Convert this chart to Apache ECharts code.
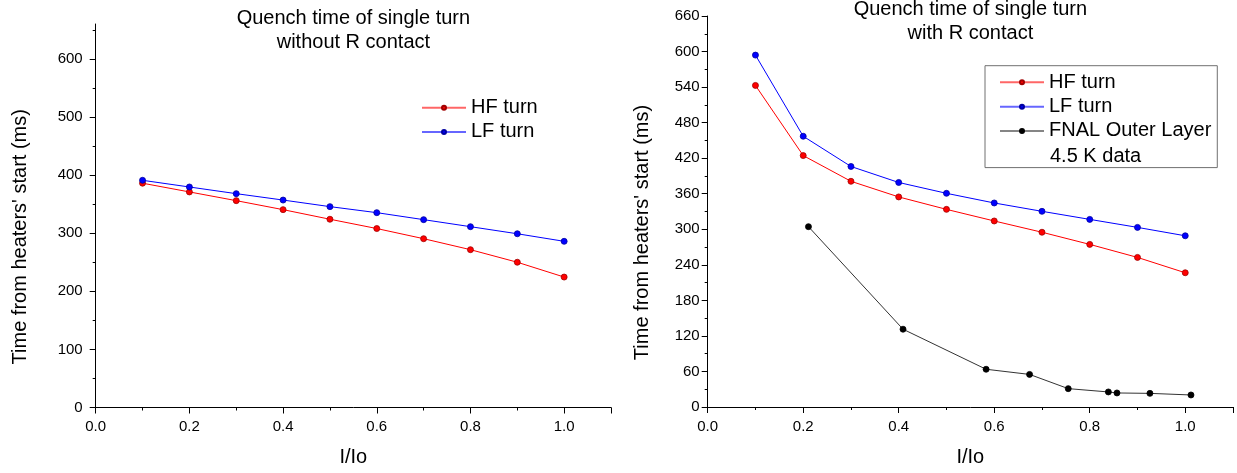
<!DOCTYPE html>
<html><head><meta charset="utf-8">
<script src="https://cdn.jsdelivr.net/npm/echarts@6/dist/echarts.min.js"></script>
<style>html,body{margin:0;padding:0;background:#fff}#c{width:1237px;height:473px}</style>
</head><body><div id="c"></div>
<script>
// ---- data ----
const currentRatio = [0.1, 0.2, 0.3, 0.4, 0.5, 0.6, 0.7, 0.8, 0.9, 1.0];
const leftHF = [386, 371, 356, 340.5, 324, 308, 290.5, 271.6, 250, 224.5];
const leftLF = [391, 379.5, 368, 357, 345.7, 335.3, 323.3, 311.2, 299, 286];
const rightHF = [542.8, 424.4, 381, 354.6, 333.6, 314, 295, 274.5, 252.5, 226.6];
const rightLF = [594, 457, 406, 379, 360.7, 344.4, 330.3, 316.7, 303.2, 289];
const fnalX = [0.211, 0.409, 0.583, 0.674, 0.755, 0.839, 0.857, 0.926, 1.012];
const fnalY = [304.4, 131.3, 63.7, 55, 31, 25.4, 23.7, 23, 20.3];
const xTickLabels = [0, 0.2, 0.4, 0.6, 0.8, 1.0];
const leftYTickLabels = [0, 100, 200, 300, 400, 500, 600];
const rightYTickLabels = [0, 60, 120, 180, 240, 300, 360, 420, 480, 540, 600, 660];
const titles = ['Quench time of single turn\nwithout R contact', 'Quench time of single turn\nwith R contact'];
const xName = 'I/Io';
const yName = "Time from heaters' start (ms)";
const names = ['HF turn', 'LF turn', 'FNAL Outer Layer'];
const extraLegendLine = '4.5 K data';

const FONT = '"Liberation Sans", Arial, sans-serif';
const pair = (xs, ys) => xs.map((x, i) => [x, ys[i]]);

function xAxis(gridIndex) {
  return {
    type: 'value', gridIndex, min: 0, max: 1.1, interval: 0.2,
    name: xName, nameLocation: 'middle', nameGap: 40,
    nameTextStyle: { fontFamily: FONT, fontSize: 20, color: '#000' },
    axisLine: { show: true, onZero: false, lineStyle: { color: '#000', width: 1 } },
    axisTick: { show: true, length: 6, lineStyle: { color: '#000' } },
    minorTick: { show: true, splitNumber: 2, length: 3, lineStyle: { color: '#000' } },
    splitLine: { show: false },
    axisLabel: { customValues: xTickLabels, formatter: v => v.toFixed(1), margin: 12,
      fontFamily: FONT, fontSize: 15, color: '#000' }
  };
}
function yAxis(gridIndex, interval, labels, gap, margin) {
  return {
    type: 'value', gridIndex, min: 0, max: 660, interval,
    name: yName, nameLocation: 'middle', nameGap: gap,
    nameTextStyle: { fontFamily: FONT, fontSize: 20, color: '#000', padding: [0, 42, 0, 0] },
    axisLine: { show: true, onZero: false, lineStyle: { color: '#000', width: 1 } },
    axisTick: { show: true, length: 6, customValues: labels, lineStyle: { color: '#000' } },
    minorTick: { show: true, splitNumber: 2, length: 3, lineStyle: { color: '#000' } },
    splitLine: { show: false },
    axisLabel: { customValues: labels, margin, fontFamily: FONT, fontSize: 15, color: '#000' }
  };
}
function line(name, data, xi, color, border, lineColor) {
  return {
    type: 'line', name, data, xAxisIndex: xi, yAxisIndex: xi,
    symbol: 'circle', symbolSize: 6, showSymbol: true,
    lineStyle: { color: lineColor || color, width: 1 },
    itemStyle: { color, borderColor: border, borderWidth: 0.8 },
    emphasis: { disabled: true }, z: 3
  };
}

const chart = echarts.init(document.getElementById('c'), null, { renderer: 'canvas' });
chart.setOption({
  animation: false,
  backgroundColor: '#fff',
  title: [
    { text: titles[0], left: 353.4, top: 6, textAlign: 'center', padding: 0,
      textStyle: { fontFamily: FONT, fontSize: 20, fontWeight: 'normal', color: '#000', lineHeight: 24 } },
    { text: titles[1], left: 970.4, top: -3, textAlign: 'center', padding: 0,
      textStyle: { fontFamily: FONT, fontSize: 20, fontWeight: 'normal', color: '#000', lineHeight: 24 } }
  ],
  grid: [
    { left: 95.7, right: 1237 - 611, top: 24, bottom: 473 - 407.5 },
    { left: 707.7, right: 1237 - 1233, top: 16, bottom: 473 - 407 }
  ],
  xAxis: [xAxis(0), xAxis(1)],
  yAxis: [yAxis(0, 100, leftYTickLabels, 65, 13), yAxis(1, 60, rightYTickLabels, 55, 8)],
  legend: [
    { data: [names[0], names[1]], left: 421, top: 95.5, orient: 'vertical', padding: 0,
      itemWidth: 44, itemHeight: 5, itemGap: 0, lineStyle: { opacity: 0.6 },
      textStyle: { fontFamily: FONT, fontSize: 20, color: '#000', lineHeight: 24.3 }, selectedMode: false },
    { data: [names[0], names[1], names[2]], left: 985, top: 65.7, orient: 'vertical',
      padding: [4.5, 6, 24.5, 14], borderColor: '#707070', borderWidth: 1,
      itemWidth: 44, itemHeight: 5, itemGap: 0, lineStyle: { opacity: 0.6 },
      textStyle: { fontFamily: FONT, fontSize: 20, color: '#000', lineHeight: 24.3 }, selectedMode: false }
  ],
  graphic: [
    { type: 'text', left: 1050, top: 144.5,
      style: { text: extraLegendLine, fontFamily: FONT, fontSize: 20, fill: '#000', lineHeight: 24.3 } }
  ],
  series: [
    line(names[0], pair(currentRatio, leftHF), 0, '#ff0000', '#a00000'),
    line(names[1], pair(currentRatio, leftLF), 0, '#0000ff', '#0000a0'),
    line(names[0], pair(currentRatio, rightHF), 1, '#ff0000', '#a00000'),
    line(names[1], pair(currentRatio, rightLF), 1, '#0000ff', '#0000a0'),
    line(names[2], pair(fnalX, fnalY), 1, '#000000', '#000000', '#333333')
  ]
});
</script>
</body></html>
